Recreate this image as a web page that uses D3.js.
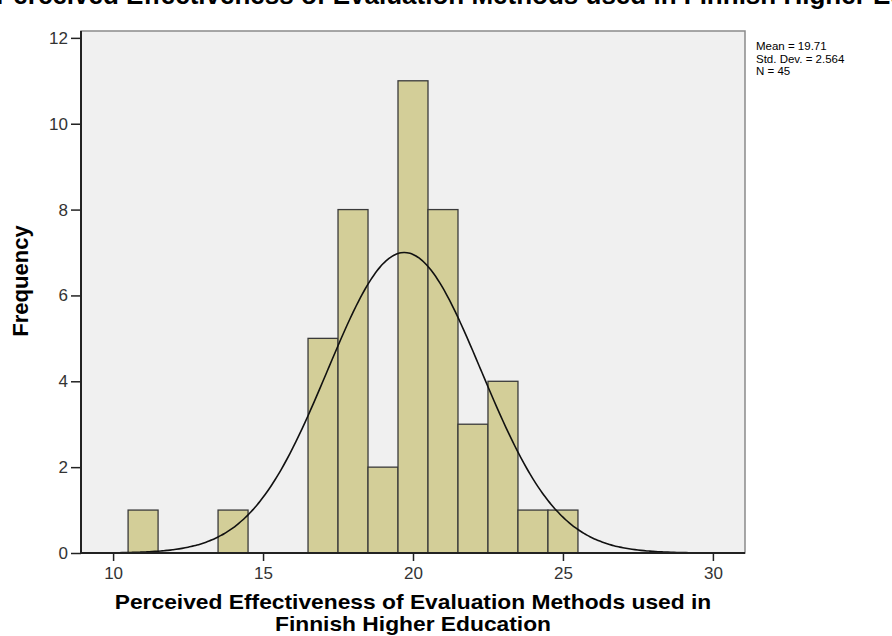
<!DOCTYPE html>
<html>
<head>
<meta charset="utf-8">
<script src="https://cdn.jsdelivr.net/npm/d3@7"></script>
<style>
  body { margin: 0; background: #fff; }
  text { font-family: "Liberation Sans", Arial, sans-serif; }
</style>
</head>
<body>
<div id="chart"></div>
<script>
const binCenters = [11, 14, 17, 18, 19, 20, 21, 22, 23, 24, 25];
const frequencies = [1, 1, 5, 8, 2, 11, 8, 3, 4, 1, 1];
const xTicks = [10, 15, 20, 25, 30];
const yTicks = [0, 2, 4, 6, 8, 10, 12];
const statLabels = ["Mean = 19.71", "Std. Dev. = 2.564", "N = 45"];
const stats = { mean: 19.71, sd: 2.564, n: 45 };

const fullWidth = 892, fullHeight = 636;
const margin = { top: 31, right: 147, bottom: 83, left: 81 };
const width = fullWidth - margin.left - margin.right,
      height = fullHeight - margin.top - margin.bottom;

const svg = d3.select("#chart").append("svg")
    .attr("width", fullWidth)
    .attr("height", fullHeight);

// Titre (coupé en haut comme dans l'original)
svg.append("text")
   .attr("x", -4)
   .attr("y", 4)
   .style("font-size", "26px")
   .style("font-weight", "bold")
   .text("Perceived Effectiveness of Evaluation Methods used in Finnish Higher Education");

const g = svg.append("g")
    .attr("transform", "translate(" + margin.left + "," + margin.top + ")");

const xScale = d3.scaleLinear().domain([8.93, 31.07]).range([0, width]);
const yScale = d3.scaleLinear().domain([0, 12.16]).range([height, 0]);

// Fond du graphique
g.append("rect")
 .attr("width", width)
 .attr("height", height)
 .attr("fill", "#f0f0f0")
 .attr("stroke", "#8a8a8a")
 .attr("stroke-width", 1.5);

// Barres
g.selectAll("rect.bar")
 .data(binCenters)
 .enter().append("rect")
 .attr("class", "bar")
 .attr("x", d => xScale(d - 0.5))
 .attr("width", d => xScale(d + 0.5) - xScale(d - 0.5))
 .attr("y", (d, i) => yScale(frequencies[i]))
 .attr("height", (d, i) => height - yScale(frequencies[i]))
 .attr("fill", "#d3ce98")
 .attr("stroke", "#3a3a3a")
 .attr("stroke-width", 1.3);

// Courbe normale à partir de la moyenne et de l'écart-type
const xs = d3.range(10, 30.01, 0.1);
const normal = x => stats.n / (stats.sd * Math.sqrt(2 * Math.PI)) *
    Math.exp(-0.5 * Math.pow((x - stats.mean) / stats.sd, 2));
g.append("path")
 .datum(xs)
 .attr("fill", "none")
 .attr("stroke", "#111")
 .attr("stroke-width", 1.6)
 .attr("d", d3.line().x(d => xScale(d)).y(d => yScale(normal(d))).curve(d3.curveBasis));

// Axes
const xAxis = g.append("g")
    .attr("transform", "translate(0," + height + ")")
    .call(d3.axisBottom(xScale).tickValues(xTicks).tickSize(8).tickPadding(6).tickSizeOuter(0));
const yAxis = g.append("g")
    .call(d3.axisLeft(yScale).tickValues(yTicks).tickSize(10).tickPadding(3).tickSizeOuter(0));

[xAxis, yAxis].forEach(a => {
  a.select(".domain").attr("stroke", "#222").attr("stroke-width", 2);
  a.selectAll(".tick line").attr("stroke", "#222").attr("stroke-width", 1.5);
  a.selectAll(".tick text").style("font-size", "17px").attr("fill", "#333")
   .style("font-family", "'Liberation Sans', Arial, sans-serif");
});
yAxis.select(".domain").attr("d", "M0," + height + "V0");
xAxis.select(".domain").attr("d", "M0,0H" + width);

// Titres des axes
svg.append("text")
   .attr("transform", "rotate(-90)")
   .attr("x", -281)
   .attr("y", 28)
   .style("text-anchor", "middle")
   .style("font-size", "22px")
   .style("font-weight", "bold")
   .text("Frequency");

const xLabel = svg.append("g")
   .attr("transform", "translate(413,0) scale(1.14,1)")
   .append("text")
   .style("text-anchor", "middle")
   .style("font-size", "20px")
   .style("font-weight", "bold");
xLabel.append("tspan").attr("x", 0).attr("y", 609)
      .text("Perceived Effectiveness of Evaluation Methods used in");
xLabel.append("tspan").attr("x", 0).attr("y", 631)
      .text("Finnish Higher Education");

// Statistiques
svg.append("g").selectAll("text")
   .data(statLabels)
   .enter().append("text")
   .attr("x", 756)
   .attr("y", (d, i) => 50 + i * 12.5)
   .style("font-size", "11.5px")
   .text(d => d);
</script>
</body>
</html>
